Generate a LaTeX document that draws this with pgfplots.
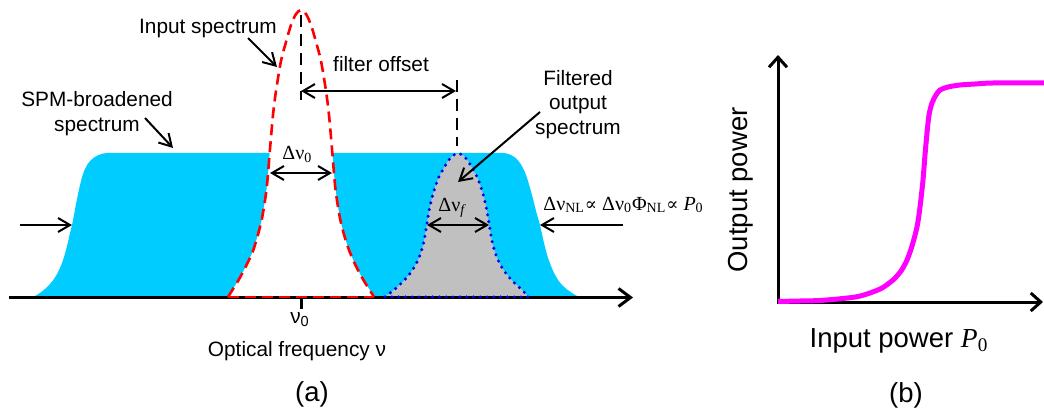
\documentclass[border=0pt]{standalone}
\usepackage{fontspec}
\setmainfont{Liberation Sans}
\newfontfamily\tnr{Liberation Serif}
\newfontfamily\djv{DejaVu Serif}
\usepackage{pgfplots}
\pgfplotsset{compat=1.18}
\usetikzlibrary{arrows.meta}

\definecolor{spm}{RGB}{0,204,255}
\definecolor{filt}{RGB}{192,192,192}
\definecolor{mag}{RGB}{255,0,255}
\definecolor{dotblue}{RGB}{0,0,230}

% proportional-to sign taken from a family that has it
\newcommand{\prop}{{\djv\fontsize{9}{11}\selectfont ∝}}

\tikzset{
  lbl/.style={font=\fontsize{10.4}{12.5}\selectfont, anchor=base, inner sep=0pt},
  big/.style={font=\fontsize{13.75}{16}\selectfont, anchor=base, inner sep=0pt},
  sym/.style={font={\tnr\fontsize{10}{12}\selectfont}, anchor=base west, inner sep=0pt},
  ann/.style={line width=1pt, -{Straight Barb[length=6pt,width=7pt]}},
  dbl/.style={line width=1pt, {Straight Barb[length=6pt,width=7pt]}-{Straight Barb[length=6pt,width=7pt]}},
  reddash/.style={red, line width=1.3pt, dash pattern=on 5.5pt off 3pt},
  bluedot/.style={dotblue, line width=1.7pt, line cap=round, dash pattern=on 0pt off 3.4pt},
}

\begin{document}
\begin{tikzpicture}
\begin{axis}[name=main, width=522pt, height=208.5pt, scale only axis,
  xmin=0, xmax=1044, ymin=0, ymax=417, y dir=reverse,
  hide axis, clip=false]

% ---------- (a) spectra ----------
% SPM-broadened spectrum
\addplot[draw=none, fill=spm] coordinates {
 (32,297) (36,295.5) (40,293) (45,289) (50,284) (54,279) (57,274) (60,268)
 (62,263) (64,257) (66,250) (68,242) (70,233) (72,225) (74,215) (76,204)
 (78,194) (80,185) (82,177) (84,171) (87,165) (90,161) (94,157.5) (98,155.3)
 (102,153.8) (107,153)
 (503,153) (507,153.5) (511,155) (515,157.5) (518,160.5) (521,164.5) (524,170)
 (526,175) (528,181) (530,188) (532,195) (534,203) (536,211) (538,218) (540,225)
 (542,234) (544,243) (546,251) (548,258) (551,266) (554,273) (558,280) (562,285)
 (567,289.5) (572,293) (576,295.5) (580,297)};

% input spectrum (white interior)
\addplot[draw=none, fill=white, smooth] coordinates {
 (228,297) (233,289) (238,281) (243,272) (248,262) (253,251) (257,238) (261,223)
 (264,207) (267,185) (270,149) (273,115) (276,91) (281,61) (286,42) (291,25)
 (296,14) (301,10) (306,14) (311,25) (316,42) (321,61) (326,91) (329,115)
 (332,149) (335,185) (338,207) (341,223) (345,238) (349,250) (354,262) (359,272)
 (364,281) (369,289) (374,297)};

% filtered output spectrum
\addplot[draw=none, fill=filt, smooth] coordinates {
 (385,297) (390,293) (395,289) (400,284.5) (405,279.5) (410,273.5) (414,267.5)
 (418,260) (421,252) (424,241) (427,223) (430,206) (433,194) (438,179) (443,169.5)
 (448,161) (453,155.5) (458,153.5) (463,155.5) (468,161) (473,169.5) (478,179)
 (483,194) (486,206) (489,223) (492,241) (495,252) (498,260) (502,267.5)
 (506,273.5) (511,279.5) (516,284.5) (521,289) (525,293) (528,297)};

% frequency axis
\addplot[line width=1.5pt, -{Straight Barb[length=6pt,width=9pt]}] coordinates {(9,297.5) (633,297.5)};
\addplot[line width=1.5pt] coordinates {(301,297.5) (301,309)};

% outlines
\addplot[reddash, smooth] coordinates {
 (228,297) (233,289) (238,281) (243,272) (248,262) (253,251) (257,238) (261,223)
 (264,207) (267,185) (270,149) (273,115) (276,91) (281,61) (286,42) (291,25)
 (296,14) (301,10) (306,14) (311,25) (316,42) (321,61) (326,91) (329,115)
 (332,149) (335,185) (338,207) (341,223) (345,238) (349,250) (354,262) (359,272)
 (364,281) (369,289) (374,297)};
\addplot[reddash] coordinates {(228,297) (374,297)};

\addplot[bluedot, smooth] coordinates {
 (385,297) (390,293) (395,289) (400,284.5) (405,279.5) (410,273.5) (414,267.5)
 (418,260) (421,252) (424,241) (427,223) (430,206) (433,194) (438,179) (443,169.5)
 (448,161) (453,155.5) (458,153.5) (463,155.5) (468,161) (473,169.5) (478,179)
 (483,194) (486,206) (489,223) (492,241) (495,252) (498,260) (502,267.5)
 (506,273.5) (511,279.5) (516,284.5) (521,289) (525,293) (528,297)};
\addplot[bluedot] coordinates {(385,297) (528,297)};

% centre markers
\addplot[line width=1.3pt, dash pattern=on 6pt off 3.5pt] coordinates {(301,15) (301,100)};
\addplot[line width=1.3pt, dash pattern=on 6pt off 3.5pt] coordinates {(457,80) (457,146)};

% annotation arrows
\addplot[ann] coordinates {(248,38) (277,67)};
\addplot[ann] coordinates {(145,118) (173,148)};
\addplot[ann] coordinates {(20,225) (72,225)};
\addplot[dbl] coordinates {(270,173) (332,173)};
\addplot[dbl] coordinates {(301,91) (456,91)};
\addplot[ann] coordinates {(540,112) (458,182)};
\addplot[dbl] coordinates {(427,225) (489,225)};
\addplot[ann] coordinates {(623,225) (540,225)};

% labels
\node[lbl] at (208,34) {Input spectrum};
\node[lbl] at (97,107) {SPM-broadened};
\node[lbl] at (97,132) {spectrum};
\node[lbl] at (381,72) {filter offset};
\node[lbl] at (578,86) {Filtered};
\node[lbl] at (578,110) {output};
\node[lbl] at (578,134) {spectrum};
\node[lbl] at (300,323) {ν\textsubscript{0}};
\node[lbl] at (297,356) {Optical frequency ν};
\node[big] at (312,401) {(a)};
\node[sym] at (282,160) {Δν\textsubscript{0}};
\node[sym] at (438,212) {Δν\textsubscript{\itshape f}};
\node[sym] at (543,210) {Δν\textsubscript{NL}\prop\ Δν\textsubscript{0}Φ\textsubscript{NL}\prop\ \textit{P}\textsubscript{0}};

% ---------- (b) transfer curve ----------
\addplot[line width=1.5pt, -{Straight Barb[length=5pt,width=9pt]}] coordinates {(778,302.5) (778,55)};
\addplot[line width=1.5pt, -{Straight Barb[length=5pt,width=9pt]}] coordinates {(777.3,302) (1043,302)};
\addplot[mag, line width=2.5pt, smooth] coordinates {
 (778,301.5) (800,301) (820,300.5) (843,298.5) (858,296.5) (870,293) (882,288)
 (893,280) (901,271) (907,260) (912,246) (917,227) (920,207) (923,180) (925,155)
 (927,133) (929,115) (932,103) (936,95) (940,90) (948,87) (960,85) (975,84)
 (993,83) (1044,83)};

\node[big, rotate=90] at (747,190) {Output power};
\node[big] at (899,347) {Input power {\tnr\itshape P}\textsubscript{\tnr 0}};
\node[big] at (906,402) {(b)};

\end{axis}
\pgfresetboundingbox
\path[use as bounding box] (main.south west) rectangle (main.north east);
\end{tikzpicture}
\end{document}
